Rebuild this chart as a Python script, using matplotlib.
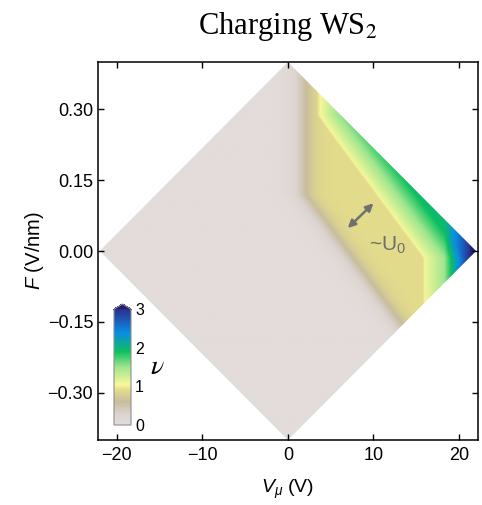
import numpy as np
import matplotlib
matplotlib.use('Agg')
import matplotlib.pyplot as plt
from matplotlib.colors import LinearSegmentedColormap
from matplotlib.patches import Polygon

plt.rcParams['font.family'] = ['Liberation Sans', 'DejaVu Sans']
plt.rcParams['mathtext.fontset'] = 'custom'
plt.rcParams['mathtext.rm'] = 'Liberation Sans'
plt.rcParams['mathtext.it'] = 'Liberation Sans:italic'

# diamond-shaped (V_mu, F) window
diamond_v = [-22, 0, 22, 0]
diamond_f = [0, 0.4, 0, -0.4]

# charging edges: edge position = clip(offset - alpha*F, v_lo, v_hi)
edge_offset = [6.5, 15.3, 18.3]
edge_alpha = [41.0, 41.0, 0.0]
edge_vlo = [1.6, 3.5, 18.3]
edge_vhi = [40.0, 15.9, 18.3]
edge_width = [1.6, 0.12, 0.3]      # blur of each edge (V)
edge_jump = [0.9, 0.15, 0.0]       # step in nu at the edge
edge_ramp = [0.0, 0.9, 1.25]       # extra nu gained past the edge
edge_ramp_len = [1.0, 4.8, 3.6]    # V needed for that ramp

# colour scale of nu
nu_stops = [0.0, 0.3, 0.6, 0.9, 1.05, 1.5, 1.9, 2.4, 3.0]
nu_colors = ['#e3dcda', '#d9d2cd', '#c9bd9e', '#e3dc8b', '#f7f79b',
             '#9fe68e', '#0ec05e', '#0a8ce6', '#2b2f8c']

xticks = [-20, -10, 0, 10, 20]
yticks = [-0.30, -0.15, 0.00, 0.15, 0.30]
cbar_ticks = [0, 1, 2, 3]

# build nu map
V, F = np.meshgrid(np.linspace(-22.2, 22.2, 1000), np.linspace(-0.4, 0.4, 1000))
nu = np.zeros_like(V)
for off, a, lo, hi, w, j, r, rl in zip(edge_offset, edge_alpha, edge_vlo, edge_vhi,
                                       edge_width, edge_jump, edge_ramp, edge_ramp_len):
    edge = np.clip(off - a * F, lo, hi)
    d = V - edge
    nu += 0.5 * (1 + np.tanh(d / w)) * j + np.clip(d / rl, 0, 1) * r

cmap = LinearSegmentedColormap.from_list(
    'nu', [(s / 3.0, c) for s, c in zip(nu_stops, nu_colors)])
cmap.set_over('#1f1f70')

fig = plt.figure(figsize=(4.82, 5.05), dpi=100)
ax = fig.add_axes([0.2033, 0.1287, 0.788, 0.7485])

im = ax.imshow(nu, extent=[-22.2, 22.2, -0.4, 0.4], origin='lower', aspect='auto',
               cmap=cmap, vmin=0, vmax=3, interpolation='bilinear')
clip = Polygon(list(zip(diamond_v, diamond_f)), closed=True, transform=ax.transData)
im.set_clip_path(clip)

ax.set_xlim(-22.2, 22.2)
ax.set_ylim(-0.4, 0.4)
ax.set_xticks(xticks)
ax.set_yticks(yticks)
ax.set_yticklabels([f'{t:.2f}'.replace('-', '\u2212') for t in yticks])
ax.tick_params(direction='in', top=True, right=True, length=4, width=1, labelsize=13)
ax.tick_params(axis='x', pad=5)
for sp in ax.spines.values():
    sp.set_linewidth(1.1)

ax.set_xlabel(r'$V_\mu$ (V)', fontsize=14, labelpad=10)
ax.set_ylabel(r'$F$ (V/nm)', fontsize=14.5, labelpad=1)
ax.set_title(r'Charging WS$_2$', fontsize=22, family='Liberation Serif',
             math_fontfamily='stix', pad=20)

# U0 arrow and label
ax.annotate('', xy=(10.0, 0.101), xytext=(7.0, 0.0486),
            arrowprops=dict(arrowstyle='<|-|>', color='#707070', lw=1.8,
                            mutation_scale=11, shrinkA=0, shrinkB=0))
ax.text(11.6, 0.013, r'~U$_0$', fontsize=15, color='#6e6e6e', ha='center', va='center')

# colorbar inset
cax = fig.add_axes([0.2365, 0.1584, 0.0353, 0.2396])
cb = fig.colorbar(im, cax=cax, extend='max', extendfrac=0.045, ticks=cbar_ticks)
cb.outline.set_edgecolor('#909090')
cb.outline.set_linewidth(0.8)
cb.ax.tick_params(length=0, labelsize=11.5, pad=3)
fig.text(0.326, 0.273, r'$\nu$', fontsize=20, math_fontfamily='stix',
         ha='center', va='center')

fig.savefig('out.png', dpi=100)
